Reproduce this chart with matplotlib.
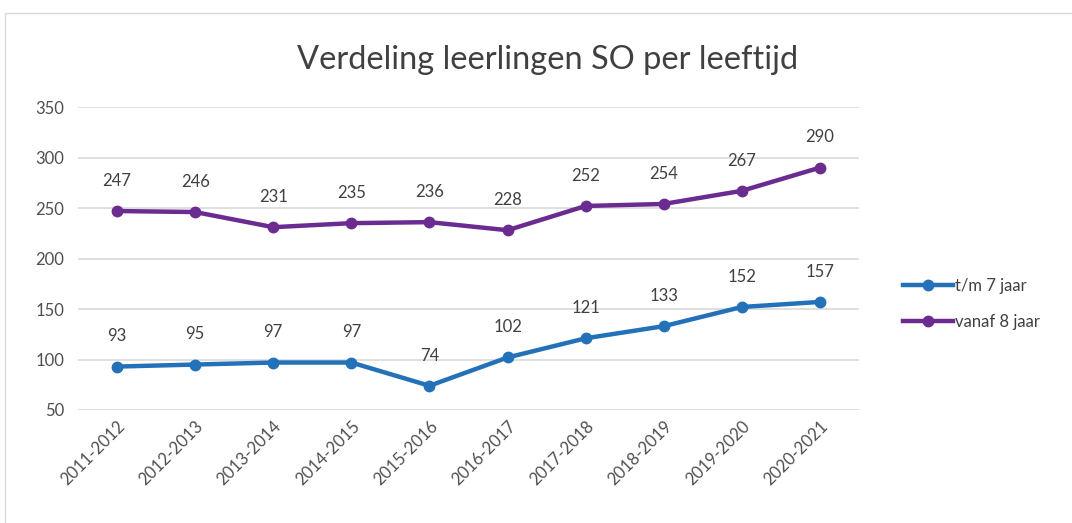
import numpy as np
import matplotlib.pyplot as plt
from matplotlib.patches import Rectangle

years = ['2011-2012', '2012-2013', '2013-2014', '2014-2015', '2015-2016',
         '2016-2017', '2017-2018', '2018-2019', '2019-2020', '2020-2021']
tm7 = [93, 95, 97, 97, 74, 102, 121, 133, 152, 157]
vanaf8 = [247, 246, 231, 235, 236, 228, 252, 254, 267, 290]

plt.rcParams['font.family'] = ['Lato', 'DejaVu Sans']

fig = plt.figure(figsize=(10.72, 5.23), dpi=100)
fig.patches.append(Rectangle((5/1072, -0.1), 1.2, 1 - 13/523 + 0.1, transform=fig.transFigure,
                             fill=False, edgecolor='#d9d9d9', linewidth=1))
ax = fig.add_axes([78/1072, 1 - 410/523, 781/1072, 303/523])

x = np.arange(len(years))
blue = '#2372b9'
purple = '#6a2c91'
ax.plot(x, tm7, color=blue, lw=3.2, marker='o', ms=7.5, label='t/m 7 jaar')
ax.plot(x, vanaf8, color=purple, lw=3.2, marker='o', ms=7.5, label='vanaf 8 jaar')

for xi, v in zip(x, tm7):
    ax.annotate(str(v), (xi, v), xytext=(0, 16), textcoords='offset points',
                ha='center', va='bottom', fontsize=12, color='#404040')
for xi, v in zip(x, vanaf8):
    ax.annotate(str(v), (xi, v), xytext=(0, 16), textcoords='offset points',
                ha='center', va='bottom', fontsize=12, color='#404040')

ax.set_xlim(-0.5, len(years) - 0.5)
ax.set_ylim(50, 350)
ax.set_yticks(range(50, 351, 50))
ax.set_xticks(x)
ax.set_xticklabels(years, rotation=45, ha='right', rotation_mode='anchor')
ax.tick_params(axis='both', length=0, labelsize=12, colors='#505050')
ax.tick_params(axis='y', pad=10)
ax.tick_params(axis='x', pad=6)
ax.grid(axis='y', color='#d9d9d9', lw=1.2)
ax.set_axisbelow(True)
for s in ax.spines.values():
    s.set_visible(False)

fig.text(548/1072, 1 - 60/523, 'Verdeling leerlingen SO per leeftijd', ha='center', va='center',
         fontsize=23.5, color='#404040', fontweight='normal')

fig.legend(loc='center left', bbox_to_anchor=(888/1072, 1 - 304/523), frameon=False,
           fontsize=12, labelcolor='#404040', handlelength=3.0, handletextpad=0.1,
           labelspacing=1.2)

fig.savefig('out.png', dpi=100)
